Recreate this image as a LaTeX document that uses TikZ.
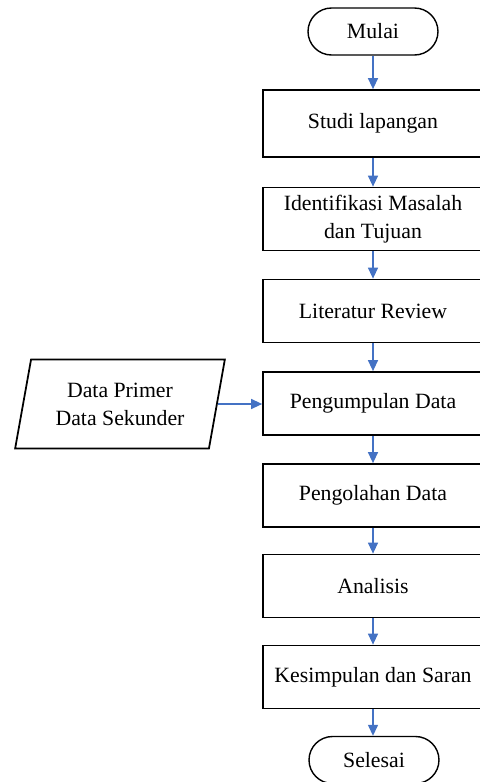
\documentclass[tikz,border=0pt]{standalone}
\usepackage{fontspec}
\setmainfont{Liberation Serif}
\usepackage{xcolor}
\usetikzlibrary{shapes,arrows.meta,positioning}

\definecolor{arrowblue}{HTML}{4472C4}

\begin{document}
\begin{tikzpicture}[
    x=0.02cm, y=-0.02cm,
    font=\fontsize{12.4}{16}\selectfont,
    terminal/.style={draw, line width=0.8pt, rounded corners=0.47cm, minimum width=2.6cm, minimum height=0.94cm},
    process/.style={draw, line width=1pt, minimum width=4.4cm, minimum height=1.26cm, align=center},
    io/.style={trapezium, trapezium left angle=77, trapezium right angle=103, trapezium stretches, draw, line width=1pt, minimum width=4.2cm, minimum height=1.78cm, align=center},
    flow/.style={-{Triangle[length=2.2mm,width=2mm]}, color=arrowblue, line width=0.75pt}
]
\useasboundingbox (0,0) rectangle (480,782);

% Start and end
\node[terminal] (mulai) at (373,31.5) {Mulai};
\node[terminal] (selesai) at (374,760) {Selesai};

% Process steps
\node[process, minimum height=1.34cm] (studi) at (373,123.5) {Studi lapangan};
\node[process] (identifikasi) at (373,219) {Identifikasi Masalah\\dan Tujuan};
\node[process] (literatur) at (373,311) {Literatur Review};
\node[process] (pengumpulan) at (373,403.5) {Pengumpulan Data};
\node[process] (pengolahan) at (373,495.5) {Pengolahan Data};
\node[process] (analisis) at (373,586) {Analisis};
\node[process] (kesimpulan) at (373,677) {Kesimpulan dan Saran};

% Input data
\node[io] (data) at (120,404) {Data Primer\\Data Sekunder};

% Arrows
\draw[flow] (mulai) -- (studi);
\draw[flow] (studi) -- (identifikasi);
\draw[flow] (identifikasi) -- (literatur);
\draw[flow] (literatur) -- (pengumpulan);
\draw[flow] (pengumpulan) -- (pengolahan);
\draw[flow] (pengolahan) -- (analisis);
\draw[flow] (analisis) -- (kesimpulan);
\draw[flow] (kesimpulan.south) -- (kesimpulan.south |- selesai.north);
\draw[flow] (data.east) -- (data.east -| pengumpulan.west);

\end{tikzpicture}
\end{document}
